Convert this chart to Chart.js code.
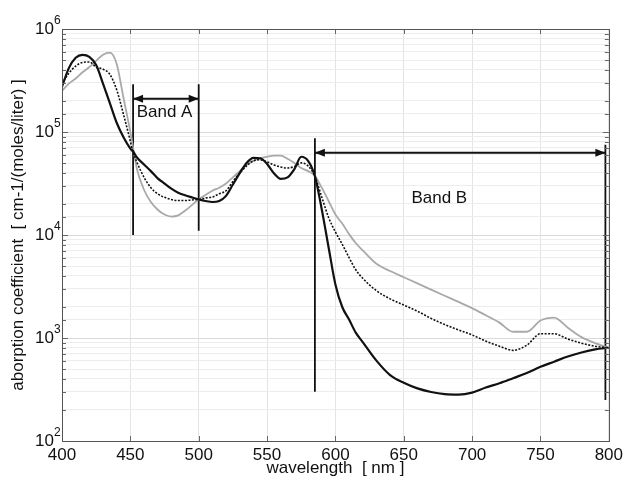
<!DOCTYPE html>
<html>
<head>
<meta charset="utf-8">
<script src="https://cdn.jsdelivr.net/npm/chart.js@4.4.1/dist/chart.umd.min.js"></script>
<style>
  html, body { margin: 0; padding: 0; background: #fff; }
  #wrap { width: 627px; height: 479px; }
</style>
</head>
<body>
<div id="wrap"><canvas id="absChart" width="627" height="479"></canvas></div>
<script>
// wavelength grid (nm) shared by the three spectra
const wavelengths = [400,405,410,415,420,425,430,435,440,445,450,452,455,460,465,470,475,480,485,490,495,500,
  505,510,515,520,525,530,535,540,545,550,555,560,565,570,575,580,585,590,595,600,605,610,615,620,
  630,640,650,660,670,680,690,700,710,720,730,740,750,760,770,780,790,800];

// black solid spectrum
const solidCurve = [275000,417000,525000,562000,537000,447000,295000,191000,123000,89000,69000,64600,56200,48400,41700,35500,31600,28200,25700,24300,23200,22200,
  21400,20900,21400,24000,30900,39800,50100,56200,55600,49000,39800,35100,36300,43700,57500,52500,37200,17800,7600,3310,2000,1510,1120,912,
  603,437,367,324,299,285,282,295,331,363,407,457,525,589,661,724,776,804];

// black dotted spectrum
const dottedCurve = [295000,372000,437000,473000,479000,427000,407000,363000,257000,148000,81300,63100,50100,36300,28800,25100,23200,22100,21600,21600,21900,22200,
  22900,23400,25100,26900,33100,39800,46800,52500,53700,51300,47900,45700,44700,46200,50100,46800,37200,23400,14800,10700,8130,6030,4570,3800,
  2880,2400,2090,1820,1550,1350,1200,1070,933,832,759,851,1100,1100,977,891,832,804];

// gray spectrum
const grayCurve = [251000,295000,331000,380000,427000,490000,562000,589000,457000,214000,100000,70800,42700,27500,20900,17600,15800,15100,15500,17200,19500,22200,
  24500,26900,28800,31600,36300,41700,47900,52500,55600,57500,58900,58900,55000,50100,44700,41700,37600,28800,21400,15800,12900,10200,8320,7080,
  5250,4470,3890,3390,2950,2570,2240,1950,1660,1410,1150,1150,1480,1580,1260,1020,891,804];

// band markers (nm / coefficient)
const bandLineX = [452, 500, 585, 797.5];
const bandLineLow = [10000, 11000, 300, 250];
const bandLineHigh = [290000, 290000, 87000, 75000];
const arrowFrom = [452, 585];
const arrowTo = [500, 797.5];
const arrowY = [210000, 63000];
const bandNames = ['Band A', 'Band B'];
const bandNameX = [475, 676];
const bandNameY = [155000, 22500];

const yDecades = [2, 3, 4, 5, 6];
const FONT = "'Liberation Sans', Arial, sans-serif";

function toPoints(xs, ys) {
  return xs.map((x, i) => ({ x: x, y: ys[i] }));
}

function isDecade(v) {
  const l = Math.log10(v);
  return Math.abs(l - Math.round(l)) < 1e-6;
}

const datasets = [
  { data: toPoints(wavelengths, solidCurve), borderColor: '#111', borderWidth: 2.2 },
  { data: toPoints(wavelengths, dottedCurve), borderColor: '#111', borderWidth: 1.6, borderDash: [2, 1.5] },
  { data: toPoints(wavelengths, grayCurve), borderColor: '#a9a9a9', borderWidth: 1.8 }
].map(d => Object.assign(d, { cubicInterpolationMode: 'monotone', pointRadius: 0, fill: false }));

bandLineX.forEach((x, i) => {
  datasets.push({
    data: [{ x: x, y: bandLineLow[i] }, { x: x, y: bandLineHigh[i] }],
    borderColor: '#111', borderWidth: 1.8, pointRadius: 0, tension: 0
  });
});

arrowFrom.forEach((x, i) => {
  datasets.push({
    data: [{ x: x, y: arrowY[i] }, { x: arrowTo[i], y: arrowY[i] }],
    borderColor: '#111', borderWidth: 2, pointRadius: 0, tension: 0, isArrow: true
  });
});

// extra drawing: box, inner ticks, 10^n labels, arrowheads, band names
const decorPlugin = {
  id: 'decor',
  afterDraw(chart) {
    const ctx = chart.ctx;
    const a = chart.chartArea;
    const ys = chart.scales.y;
    const xs = chart.scales.x;
    ctx.save();

    // inner tick marks left/right
    ctx.strokeStyle = '#666';
    ctx.lineWidth = 1;
    ys.ticks.forEach(t => {
      const y = Math.round(ys.getPixelForValue(t.value)) + 0.5;
      const len = isDecade(t.value) ? 6 : 4;
      ctx.beginPath();
      ctx.moveTo(a.left, y); ctx.lineTo(a.left + len, y);
      ctx.moveTo(a.right, y); ctx.lineTo(a.right - len, y);
      ctx.stroke();
    });
    xs.ticks.forEach(t => {
      const x = Math.round(xs.getPixelForValue(t.value)) + 0.5;
      ctx.beginPath();
      ctx.moveTo(x, a.bottom); ctx.lineTo(x, a.bottom - 5);
      ctx.moveTo(x, a.top); ctx.lineTo(x, a.top + 5);
      ctx.stroke();
    });

    // box
    ctx.strokeStyle = '#555';
    ctx.strokeRect(Math.round(a.left) + 0.5, Math.round(a.top) + 0.5,
      Math.round(a.right - a.left), Math.round(a.bottom - a.top));

    // y labels 10^n
    ctx.fillStyle = '#111';
    ctx.textBaseline = 'alphabetic';
    yDecades.forEach(e => {
      const y = ys.getPixelForValue(Math.pow(10, e));
      ctx.font = '17px ' + FONT;
      ctx.textAlign = 'right';
      ctx.fillText('10', a.left - 8, y + 5);
      ctx.font = '12px ' + FONT;
      ctx.textAlign = 'left';
      ctx.fillText(String(e), a.left - 8, y - 5);
    });

    // arrowheads
    chart.data.datasets.forEach((ds, i) => {
      if (!ds.isArrow) return;
      const pts = chart.getDatasetMeta(i).data;
      const p0 = pts[0], p1 = pts[1];
      ctx.fillStyle = '#111';
      ctx.beginPath();
      ctx.moveTo(p0.x, p0.y); ctx.lineTo(p0.x + 10, p0.y - 4); ctx.lineTo(p0.x + 10, p0.y + 4);
      ctx.closePath(); ctx.fill();
      ctx.beginPath();
      ctx.moveTo(p1.x, p1.y); ctx.lineTo(p1.x - 10, p1.y - 4); ctx.lineTo(p1.x - 10, p1.y + 4);
      ctx.closePath(); ctx.fill();
    });

    // band names
    ctx.font = '17px ' + FONT;
    ctx.textAlign = 'center';
    ctx.textBaseline = 'middle';
    ctx.fillStyle = '#111';
    bandNames.forEach((n, i) => {
      ctx.fillText(n, xs.getPixelForValue(bandNameX[i]), ys.getPixelForValue(bandNameY[i]));
    });
    ctx.restore();
  }
};

new Chart(document.getElementById('absChart'), {
  type: 'line',
  data: { datasets: datasets },
  options: {
    responsive: false,
    animation: false,
    events: [],
    layout: { padding: { left: 0, top: 29, right: 17, bottom: 0 } },
    plugins: { legend: { display: false }, tooltip: { enabled: false } },
    scales: {
      x: {
        type: 'linear',
        min: 400, max: 800,
        border: { display: false },
        grid: { color: '#e4e4e4', drawTicks: false },
        ticks: { stepSize: 50, padding: 4, color: '#111', font: { family: FONT, size: 17 } },
        title: { display: true, text: 'wavelength  [ nm ]', color: '#111', font: { family: FONT, size: 17 }, padding: { top: 0, bottom: 0 } },
        afterFit(scale) { scale.height = 38; }
      },
      y: {
        type: 'logarithmic',
        min: 100, max: 1000000,
        border: { display: false },
        grid: {
          drawTicks: false,
          color: c => isDecade(c.tick.value) ? '#d9d9d9' : '#ededed'
        },
        ticks: { autoSkip: false, callback: () => '', font: { family: FONT, size: 17 } },
        title: { display: true, text: 'aborption coefficient  [ cm-1/(moles/liter) ]', color: '#111', font: { family: FONT, size: 17 }, padding: { top: 8, bottom: 0 } },
        afterFit(scale) { scale.width = 62; }
      }
    }
  },
  plugins: [decorPlugin]
});
</script>
</body>
</html>
